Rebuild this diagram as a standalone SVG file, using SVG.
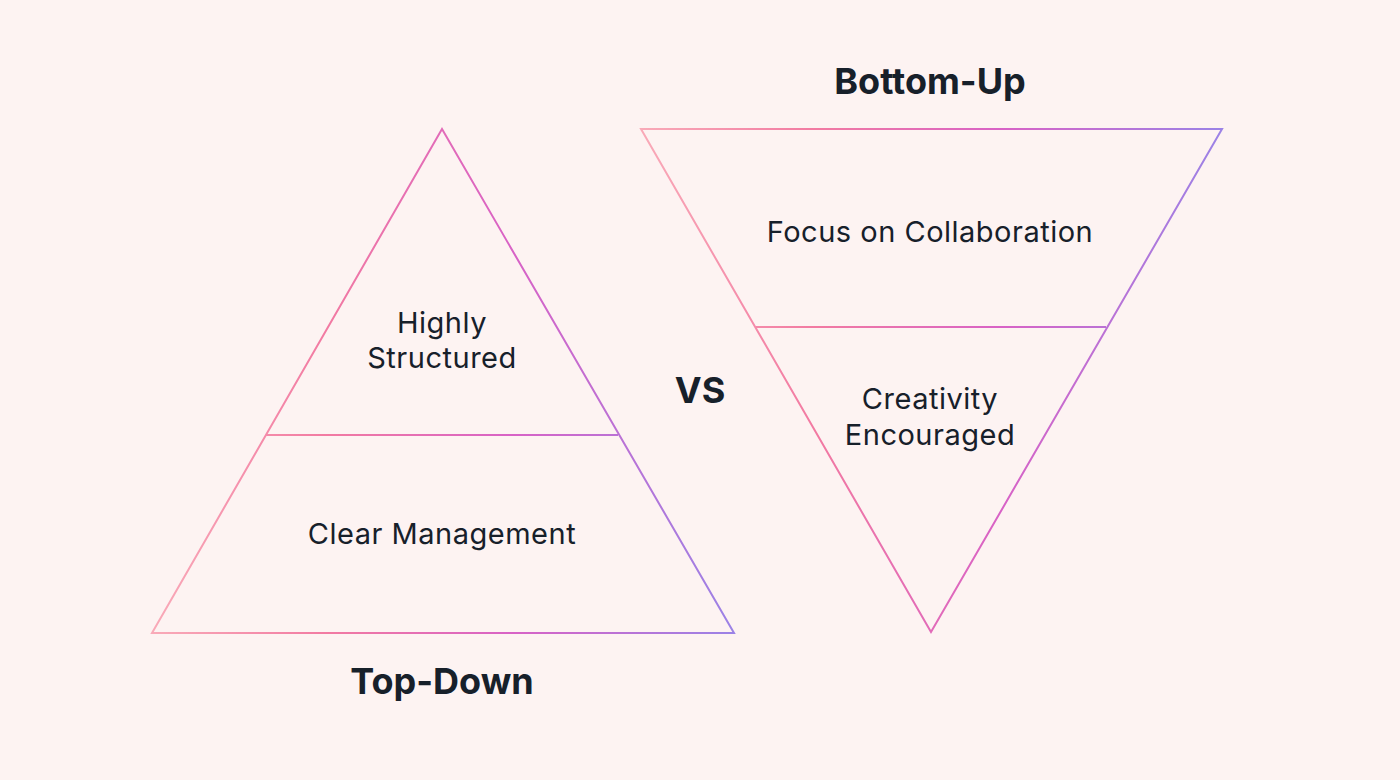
<svg xmlns="http://www.w3.org/2000/svg" width="1400" height="780" viewBox="0 0 1400 780">
<defs>
<linearGradient id="gL" gradientUnits="userSpaceOnUse" x1="152" y1="0" x2="734" y2="0">
<stop offset="0" stop-color="#f9aab8"/>
<stop offset="0.3" stop-color="#f27aa2"/>
<stop offset="0.62" stop-color="#d862c6"/>
<stop offset="1" stop-color="#9b82e6"/>
</linearGradient>
<linearGradient id="gR" gradientUnits="userSpaceOnUse" x1="641" y1="0" x2="1222" y2="0">
<stop offset="0" stop-color="#f9aab8"/>
<stop offset="0.3" stop-color="#f27aa2"/>
<stop offset="0.62" stop-color="#d862c6"/>
<stop offset="1" stop-color="#9b82e6"/>
</linearGradient>
<style>
.lbl{font-family:Inter,"Liberation Sans",sans-serif;font-size:29px;letter-spacing:0.5px;fill:#17202a;text-anchor:middle}
.ttl{font-family:Inter,"Liberation Sans",sans-serif;font-size:36px;font-weight:700;fill:#17202a;text-anchor:middle}
.shape{fill:none;stroke-width:2}
</style>
</defs>
<rect width="1400" height="780" fill="#fdf3f2"/>
<g id="top-down">
<polygon class="shape" stroke="url(#gL)" points="442,129 734,633 152,633"/>
<line class="shape" stroke="url(#gL)" x1="266" y1="435" x2="618" y2="435"/>
<text class="lbl" x="442" y="333">Highly</text>
<text class="lbl" x="442" y="368">Structured</text>
<text class="lbl" x="442" y="544">Clear Management</text>
<text class="ttl" x="442" y="694">Top-Down</text>
</g>
<g id="bottom-up">
<polygon class="shape" stroke="url(#gR)" points="641,129 1222,129 931,632"/>
<line class="shape" stroke="url(#gR)" x1="756" y1="327" x2="1106" y2="327"/>
<text class="lbl" x="930" y="242">Focus on Collaboration</text>
<text class="lbl" x="930" y="409">Creativity</text>
<text class="lbl" x="930" y="445">Encouraged</text>
<text class="ttl" x="930" y="94">Bottom-Up</text>
</g>
<g id="vs">
<text class="ttl" x="700" y="403">VS</text>
</g>
</svg>
